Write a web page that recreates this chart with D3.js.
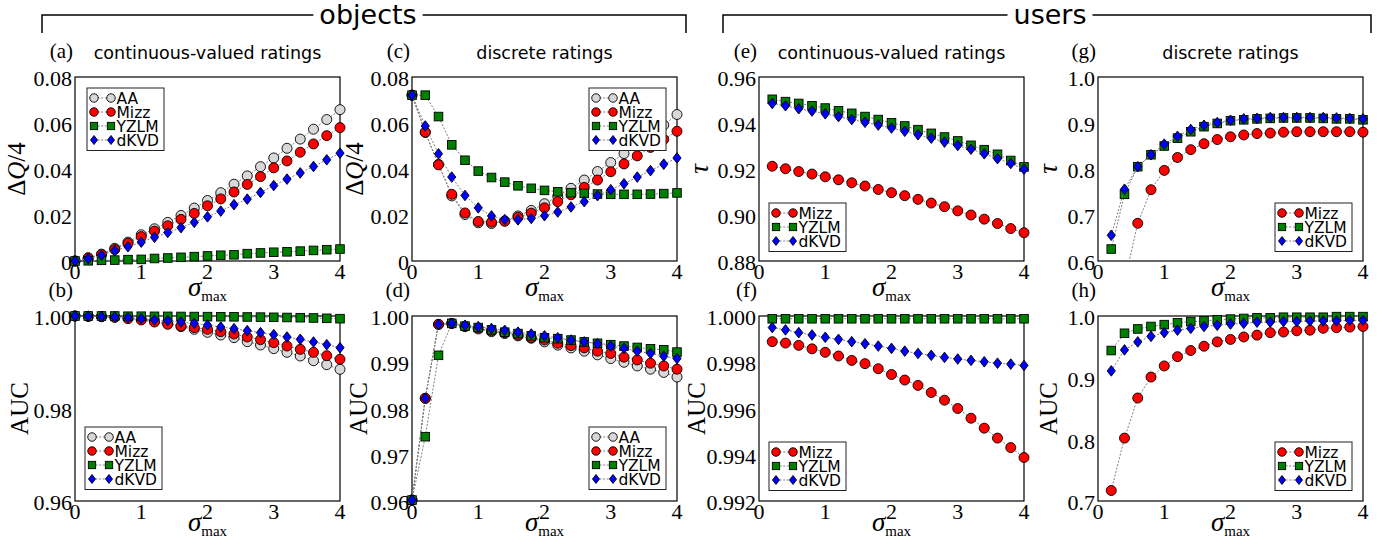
<!DOCTYPE html>
<html><head><meta charset="utf-8">
<script src="https://cdn.jsdelivr.net/npm/d3@7"></script>
<style>body{margin:0;background:#fff}svg{display:block}</style>
</head><body>
<svg id="c" width="1383" height="549"></svg>
<script>
// ---------------- data ----------------
const sigmaObj = [0,0.2,0.4,0.6,0.8,1.0,1.2,1.4,1.6,1.8,2.0,2.2,2.4,2.6,2.8,3.0,3.2,3.4,3.6,3.8,4.0];
const sigmaUsr = [0.2,0.4,0.6,0.8,1.0,1.2,1.4,1.6,1.8,2.0,2.2,2.4,2.6,2.8,3.0,3.2,3.4,3.6,3.8,4.0];
const xTicks = [0,1,2,3,4];
const xTickLabels = ["0","1","2","3","4"];

// (a) objects, continuous, ΔQ/4
const aAA   = [0,0.0014,0.0030,0.0055,0.0082,0.0114,0.0140,0.0168,0.0198,0.0230,0.0263,0.0297,0.0334,0.0370,0.0410,0.0448,0.0490,0.0530,0.0573,0.0615,0.0658];
const aMizz = [0,0.0013,0.0028,0.0050,0.0077,0.0106,0.0130,0.0153,0.0181,0.0207,0.0240,0.0270,0.0300,0.0333,0.0367,0.0405,0.0435,0.0473,0.0509,0.0545,0.0580];
const aYZLM = [0,0.0001,0.0003,0.0004,0.0006,0.0007,0.0011,0.0013,0.0016,0.0019,0.0022,0.0025,0.0027,0.0032,0.0035,0.0038,0.0040,0.0043,0.0046,0.0049,0.0052];
const aDKVD = [0,0.0010,0.0025,0.0045,0.0062,0.0082,0.0103,0.0124,0.0145,0.0168,0.0192,0.0217,0.0245,0.0269,0.0298,0.0328,0.0356,0.0383,0.0411,0.0440,0.0469];
// (b) objects, continuous, AUC
const bAA   = [1.0,0.99993,0.99986,0.99978,0.99964,0.99928,0.99892,0.99841,0.99769,0.99712,0.99647,0.99589,0.99532,0.99445,0.99373,0.99294,0.99214,0.99135,0.99034,0.98948,0.98847];
const bMizz = [1.0,0.99993,0.99986,0.99971,0.99942,0.99914,0.99870,0.99820,0.99784,0.99748,0.99712,0.99661,0.99611,0.99546,0.99488,0.99423,0.99351,0.99279,0.99214,0.99142,0.99063];
const bYZLM = [1.0,1.0,1.0,1.0,0.99995,0.99995,0.99993,0.99992,0.99990,0.99988,0.99986,0.99984,0.99982,0.99979,0.99976,0.99972,0.99968,0.99963,0.99957,0.99950,0.99942];
const bDKVD = [1.0,0.99993,0.99986,0.99978,0.99964,0.99942,0.99914,0.99899,0.99870,0.99841,0.99805,0.99762,0.99726,0.99683,0.99640,0.99597,0.99546,0.99496,0.99438,0.99380,0.99315];
// (c) objects, discrete, ΔQ/4
const cAA   = [0.0721,0.0559,0.0420,0.0283,0.0202,0.0166,0.0163,0.0174,0.0196,0.0220,0.0249,0.0281,0.0316,0.0352,0.0389,0.0428,0.0467,0.0507,0.0549,0.0591,0.0637];
const cMizz = [0.0721,0.0560,0.0418,0.0290,0.0209,0.0172,0.0169,0.0173,0.0190,0.0208,0.0231,0.0258,0.0288,0.0320,0.0352,0.0388,0.0422,0.0457,0.0494,0.0529,0.0564];
const cYZLM = [0.0721,0.0721,0.0628,0.0505,0.0438,0.0391,0.0363,0.0343,0.0327,0.0316,0.0307,0.0301,0.0297,0.0294,0.0291,0.0290,0.0290,0.0290,0.0291,0.0293,0.0296];
const cDKVD = [0.0721,0.0587,0.0466,0.0365,0.0285,0.0231,0.0196,0.0180,0.0179,0.0185,0.0197,0.0213,0.0235,0.0258,0.0284,0.0310,0.0336,0.0365,0.0393,0.0421,0.0448];
// (d) objects, discrete, AUC
const dAA   = [0.9602,0.9822,0.9982,0.9984,0.9977,0.9972,0.9966,0.9962,0.9957,0.9952,0.9944,0.9937,0.9931,0.9924,0.9916,0.9908,0.9900,0.9892,0.9885,0.9878,0.9868];
const dMizz = [0.9602,0.9822,0.9982,0.9984,0.9978,0.9974,0.9968,0.9964,0.9959,0.9953,0.9948,0.9941,0.9936,0.9931,0.9924,0.9919,0.9911,0.9905,0.9898,0.9892,0.9885];
const dYZLM = [0.9602,0.9739,0.9915,0.9984,0.9978,0.9975,0.9970,0.9965,0.9962,0.9957,0.9953,0.9951,0.9948,0.9944,0.9941,0.9938,0.9935,0.9932,0.9929,0.9927,0.9922];
const dDKVD = [0.9602,0.9822,0.9982,0.9984,0.9980,0.9977,0.9973,0.9969,0.9965,0.9961,0.9957,0.9953,0.9948,0.9944,0.9940,0.9935,0.9930,0.9924,0.9919,0.9913,0.9908];
// (e) users, continuous, τ
const eMizz = [0.9212,0.9201,0.9189,0.9178,0.9166,0.9153,0.9140,0.9126,0.9111,0.9097,0.9084,0.9068,0.9052,0.9036,0.9018,0.9000,0.8982,0.8963,0.8941,0.8923];
const eYZLM = [0.9503,0.9493,0.9485,0.9475,0.9465,0.9453,0.9442,0.9428,0.9415,0.9401,0.9387,0.9371,0.9355,0.9339,0.9322,0.9303,0.9284,0.9264,0.9237,0.9209];
const eDKVD = [0.9485,0.9475,0.9462,0.9452,0.9440,0.9428,0.9415,0.9403,0.9391,0.9378,0.9364,0.9349,0.9334,0.9317,0.9302,0.9286,0.9266,0.9245,0.9224,0.9199];
// (f) users, continuous, AUC
const fMizz = [0.99889,0.99883,0.99873,0.99858,0.99843,0.99827,0.99808,0.99794,0.99772,0.99747,0.99723,0.99700,0.99669,0.99636,0.99600,0.99558,0.99515,0.99472,0.99431,0.99388];
const fYZLM = [0.99988,0.99988,0.99988,0.99988,0.99988,0.99988,0.99988,0.99988,0.99988,0.99988,0.99988,0.99988,0.99988,0.99988,0.99988,0.99988,0.99988,0.99988,0.99988,0.99988];
const fDKVD = [0.99950,0.99940,0.99928,0.99918,0.99908,0.99899,0.99889,0.99880,0.99870,0.99860,0.99848,0.99838,0.99830,0.99821,0.99814,0.99808,0.99802,0.99796,0.99792,0.99786];
// (g) users, discrete, τ
const gMizz = [0.35,0.555,0.682,0.755,0.797,0.825,0.842,0.855,0.864,0.870,0.874,0.877,0.878,0.880,0.881,0.881,0.881,0.881,0.881,0.880];
const gYZLM = [0.626,0.745,0.805,0.831,0.850,0.867,0.881,0.892,0.899,0.905,0.907,0.909,0.910,0.911,0.911,0.911,0.910,0.909,0.909,0.907];
const gDKVD = [0.656,0.756,0.805,0.831,0.854,0.871,0.886,0.895,0.901,0.906,0.909,0.910,0.912,0.912,0.912,0.912,0.912,0.911,0.910,0.909];
// (h) users, discrete, AUC
const hMizz = [0.717,0.802,0.867,0.901,0.919,0.934,0.944,0.951,0.958,0.962,0.966,0.969,0.973,0.974,0.976,0.977,0.980,0.981,0.982,0.983];
const hYZLM = [0.944,0.972,0.979,0.983,0.986,0.989,0.991,0.992,0.994,0.995,0.996,0.997,0.997,0.998,0.998,0.998,0.998,0.999,0.999,0.999];
const hDKVD = [0.911,0.945,0.958,0.967,0.973,0.977,0.980,0.983,0.985,0.987,0.988,0.990,0.990,0.991,0.991,0.992,0.992,0.992,0.993,0.993];

// y tick values / labels
const yTicksDQ = [0,0.02,0.04,0.06,0.08];          const yLabDQ = ["0","0.02","0.04","0.06","0.08"];
const yTicksB  = [0.96,0.98,1.00];                  const yLabB  = ["0.96","0.98","1.00"];
const yTicksD  = [0.96,0.97,0.98,0.99,1.00];        const yLabD  = ["0.96","0.97","0.98","0.99","1.00"];
const yTicksE  = [0.88,0.90,0.92,0.94,0.96];        const yLabE  = ["0.88","0.90","0.92","0.94","0.96"];
const yTicksF  = [0.992,0.994,0.996,0.998,1.000];   const yLabF  = ["0.992","0.994","0.996","0.998","1.000"];
const yTicksG  = [0.6,0.7,0.8,0.9,1.0];             const yLabG  = ["0.6","0.7","0.8","0.9","1.0"];
const yTicksH  = [0.7,0.8,0.9,1.0];                 const yLabH  = ["0.7","0.8","0.9","1.0"];

// ---------------- styles ----------------
const STY = {
  AA:   {shape:"circle",  fill:"#d8d8d8"},
  Mizz: {shape:"circle",  fill:"#ff0000"},
  YZLM: {shape:"square",  fill:"#008000"},
  dKVD: {shape:"diamond", fill:"#0000ff"}
};
const serif = "'Liberation Serif','Times New Roman',serif";
const sans  = "'DejaVu Sans',sans-serif";
const LINEC = "#808080", DASH = "2,1.6";

// ---------------- layout ----------------
const colX = [75, 412, 759, 1098];
const PW = 265;
const rowY = [77, 316];
const PH = [184, 185];

const panels = [
  {lab:"(a)", col:0,row:0, title:"continuous-valued ratings", x:sigmaObj, yd:[0,0.08], yt:yTicksDQ, yl:yLabDQ, ylab:"dq", ylx:-50,
   series:[["AA",aAA],["Mizz",aMizz],["YZLM",aYZLM],["dKVD",aDKVD]], leg:[12,11]},
  {lab:"(b)", col:0,row:1, x:sigmaObj, yd:[0.96,1.0], yt:yTicksB, yl:yLabB, ylab:"AUC", ylx:-47,
   series:[["AA",bAA],["Mizz",bMizz],["YZLM",bYZLM],["dKVD",bDKVD]], leg:[10,111]},
  {lab:"(c)", col:1,row:0, title:"discrete ratings", x:sigmaObj, yd:[0,0.08], yt:yTicksDQ, yl:yLabDQ, ylab:"dq", ylx:-49,
   series:[["AA",cAA],["Mizz",cMizz],["YZLM",cYZLM],["dKVD",cDKVD]], leg:[177,11]},
  {lab:"(d)", col:1,row:1, x:sigmaObj, yd:[0.96,1.0], yt:yTicksD, yl:yLabD, ylab:"AUC", ylx:-45,
   series:[["AA",dAA],["Mizz",dMizz],["YZLM",dYZLM],["dKVD",dDKVD]], leg:[177,111]},
  {lab:"(e)", col:2,row:0, title:"continuous-valued ratings", x:sigmaUsr, yd:[0.88,0.96], yt:yTicksE, yl:yLabE, ylab:"tau", ylx:-51,
   series:[["Mizz",eMizz],["YZLM",eYZLM],["dKVD",eDKVD]], leg:[10,126]},
  {lab:"(f)", col:2,row:1, x:sigmaUsr, yd:[0.992,1.0], yt:yTicksF, yl:yLabF, ylab:"AUC", ylx:-54,
   series:[["Mizz",fMizz],["YZLM",fYZLM],["dKVD",fDKVD]], leg:[10,126]},
  {lab:"(g)", col:3,row:0, title:"discrete ratings", x:sigmaUsr, yd:[0.6,1.0], yt:yTicksG, yl:yLabG, ylab:"tau", ylx:-41,
   series:[["Mizz",gMizz],["YZLM",gYZLM],["dKVD",gDKVD]], leg:[177,126]},
  {lab:"(h)", col:3,row:1, x:sigmaUsr, yd:[0.7,1.0], yt:yTicksH, yl:yLabH, ylab:"AUC", ylx:-41,
   series:[["Mizz",hMizz],["YZLM",hYZLM],["dKVD",hDKVD]], leg:[177,126]}
];

const svg = d3.select("#c");
const defs = svg.append("defs");

function marker(g, name, cx, cy, k) {
  const s = STY[name];
  k = k || 1;
  if (s.shape === "circle") {
    g.append("circle").attr("cx",cx).attr("cy",cy).attr("r",5*k)
      .attr("fill",s.fill).attr("stroke","#000").attr("stroke-width",0.9);
  } else if (s.shape === "square") {
    const h = 4.3*k;
    g.append("rect").attr("x",cx-h).attr("y",cy-h).attr("width",2*h).attr("height",2*h)
      .attr("fill",s.fill).attr("stroke","#000").attr("stroke-width",0.9);
  } else {
    const w = 4.1*k, h = 5.3*k;
    g.append("path").attr("d",`M${cx},${cy-h}L${cx+w},${cy}L${cx},${cy+h}L${cx-w},${cy}Z`)
      .attr("fill",s.fill).attr("stroke","#000").attr("stroke-width",0.9);
  }
}

// header brackets
function bracket(x0, x1, label, tx) {
  const g = svg.append("g");
  const t = g.append("text").attr("x",tx).attr("y",24).attr("text-anchor","middle")
    .attr("font-family",sans).attr("font-size",27).text(label);
  const bb = t.node().getBBox();
  g.append("path").attr("d",`M${x0},33V15H${bb.x-6}`).attr("fill","none").attr("stroke","#000").attr("stroke-width",1.5);
  g.append("path").attr("d",`M${bb.x+bb.width+6},15H${x1}V33`).attr("fill","none").attr("stroke","#000").attr("stroke-width",1.5);
}
bracket(42, 686, "objects", 368);
bracket(723, 1371, "users", 1050);

panels.forEach((p, i) => {
  const L = colX[p.col], T = rowY[p.row], H = PH[p.row];
  const xs = d3.scaleLinear().domain([0,4]).range([L, L+PW]);
  const ys = d3.scaleLinear().domain(p.yd).range([T+H, T]);
  const g = svg.append("g");
  const cid = "clip"+i;
  defs.append("clipPath").attr("id",cid).append("rect").attr("x",L).attr("y",T).attr("width",PW).attr("height",H);

  // frame
  g.append("rect").attr("x",L).attr("y",T).attr("width",PW).attr("height",H)
    .attr("fill","none").attr("stroke","#000").attr("stroke-width",1.2);

  // y tick labels
  g.selectAll(null).data(p.yt).enter().append("text")
    .attr("x",L-3).attr("y",d=>ys(d)).attr("dy","0.42em").attr("text-anchor","end")
    .attr("font-family",serif).attr("font-size",22).text((d,k)=>p.yl[k]);
  // x tick labels
  g.selectAll(null).data(xTicks).enter().append("text")
    .attr("x",d=>xs(d)).attr("y",T+H+18).attr("text-anchor","middle")
    .attr("font-family",serif).attr("font-size",22).text((d,k)=>xTickLabels[k]);

  // x axis label σ_max
  const xl = g.append("text").attr("x",L+PW/2).attr("y", p.row===0 ? T+H+35 : T+H+30)
    .attr("text-anchor","middle").attr("font-family",serif);
  xl.append("tspan").attr("font-size",27).attr("font-style","italic").text("σ");
  xl.append("tspan").attr("font-size",15).attr("dy",5).text("max");

  // y axis label
  const yl = g.append("text").attr("transform",`translate(${L+p.ylx},${T+H/2}) rotate(-90)`)
    .attr("text-anchor","middle").attr("font-family",serif).attr("font-size",25);
  if (p.ylab === "dq") {
    yl.append("tspan").text("Δ");
    yl.append("tspan").attr("font-style","italic").text("Q");
    yl.append("tspan").text("/4");
  } else if (p.ylab === "tau") {
    yl.append("tspan").attr("font-style","italic").attr("font-size",27).text("τ");
  } else {
    yl.text(p.ylab);
  }

  // panel label & title
  g.append("text").attr("x",L-2).attr("y",T-19).attr("text-anchor","end")
    .attr("font-family",serif).attr("font-size",21).text(p.lab);
  if (p.title) {
    g.append("text").attr("x",L+PW/2).attr("y",T-18).attr("text-anchor","middle")
      .attr("font-family",sans).attr("font-size",17.5).text(p.title);
  }

  // series
  const line = d3.line().x(d=>xs(d[0])).y(d=>ys(d[1]));
  p.series.forEach(([name, vals]) => {
    const pts = p.x.map((x,k)=>[x, vals[k]]);
    g.append("path").attr("d",line(pts)).attr("clip-path",`url(#${cid})`)
      .attr("fill","none").attr("stroke",LINEC).attr("stroke-width",1)
      .attr("stroke-dasharray",DASH);
    const mg = g.append("g");
    pts.filter(d=>d[1]>=p.yd[0]-1e-9 && d[1]<=p.yd[1]+1e-9)
       .forEach(d=>marker(mg, name, xs(d[0]), ys(d[1])));
  });

  // legend
  const n = p.series.length;
  const lx = L + p.leg[0], ly = T + p.leg[1];
  const lg = g.append("g");
  lg.append("rect").attr("x",lx).attr("y",ly).attr("width",77).attr("height",20+14*(n-1)+0.5)
    .attr("fill","#fff").attr("stroke","#222").attr("stroke-width",1);
  p.series.forEach(([name], k) => {
    const cy = ly + 10 + 14*k;
    lg.append("line").attr("x1",lx+7).attr("x2",lx+24).attr("y1",cy).attr("y2",cy)
      .attr("stroke",LINEC).attr("stroke-width",1).attr("stroke-dasharray",DASH);
    marker(lg, name, lx+7, cy, 0.85);
    marker(lg, name, lx+24, cy, 0.85);
    lg.append("text").attr("x",lx+29.5).attr("y",cy).attr("dy","0.36em")
      .attr("font-family",sans).attr("font-size",15.5).text(name);
  });
});
</script>
</body></html>
